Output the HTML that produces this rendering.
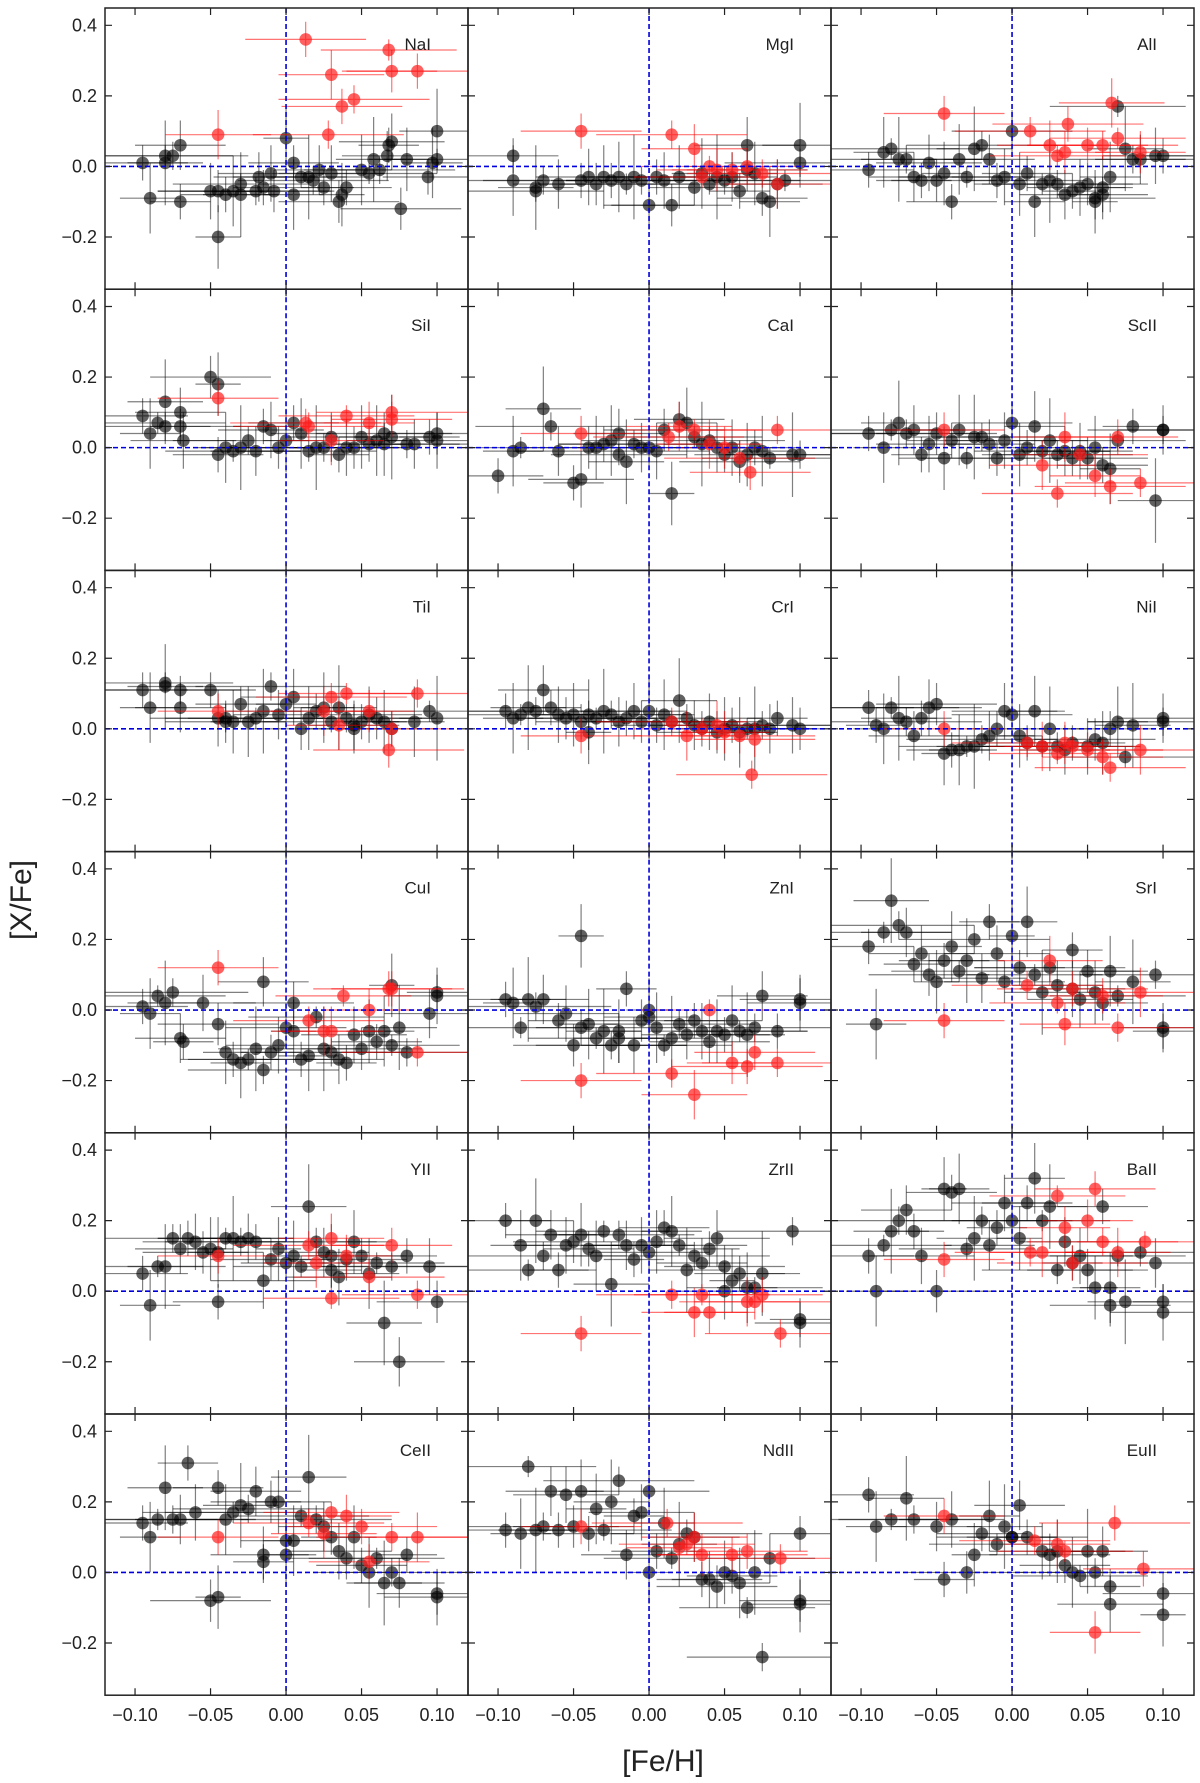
<!DOCTYPE html>
<html><head><meta charset="utf-8">
<style>
html,body{margin:0;padding:0;background:#fff;}
svg{display:block;font-family:"Liberation Sans",sans-serif;}
</style></head>
<body>
<svg id="chart" width="1200" height="1783" viewBox="0 0 1200 1783" xmlns="http://www.w3.org/2000/svg">
<text x="663" y="1771" font-size="30" text-anchor="middle" fill="#222">[Fe/H]</text>
<text x="0" y="0" font-size="30" text-anchor="middle" fill="#222" transform="translate(31,900) rotate(-90)">[X/Fe]</text>
</svg>
<script>
const elements = ["NaI","MgI","AlI","SiI","CaI","ScII","TiI","CrI","NiI","CuI","ZnI","SrI","YII","ZrII","BaII","CeII","NdII","EuII"];
const xTicks = [-0.1,-0.05,0,0.05,0.1];
const xTickLabels = ["−0.10","−0.05","0.00","0.05","0.10"];
const yTicks = [0.4,0.2,0,-0.2];
const yTickLabels = ["0.4","0.2","0.0","−0.2"];
const xErrs = [0.03,0.02,0.045,0.025,0.05,0.03,0.02,0.035,0.04,0.015];
const yErrs = [0.05,0.08,0.04,0.1,0.06,0.07,0.03,0.09,0.05,0.12];
const redXErrs = [0.04,0.05,0.035,0.045,0.03,0.05];
const redYErrs = [0.05,0.04,0.07,0.03,0.06,0.05];

const blackX = [
[-0.095,-0.09,-0.08,-0.08,-0.075,-0.07,-0.07,-0.05,-0.045,-0.045,-0.04,-0.035,-0.03,-0.03,-0.02,-0.018,-0.015,-0.01,-0.008,0.0,0.005,0.005,0.01,0.015,0.018,0.022,0.025,0.03,0.035,0.037,0.04,0.05,0.055,0.058,0.062,0.067,0.068,0.07,0.076,0.08,0.094,0.097,0.1,0.1],
[-0.09,-0.09,-0.075,-0.075,-0.07,-0.06,-0.045,-0.04,-0.035,-0.03,-0.025,-0.02,-0.015,-0.01,-0.005,0.0,0.005,0.01,0.015,0.02,0.03,0.035,0.04,0.045,0.05,0.055,0.06,0.065,0.065,0.07,0.075,0.08,0.09,0.1,0.1,0.085],
[-0.095,-0.085,-0.08,-0.075,-0.07,-0.065,-0.06,-0.055,-0.05,-0.045,-0.04,-0.035,-0.03,-0.025,-0.02,-0.015,-0.01,-0.005,0.0,0.005,0.01,0.015,0.02,0.025,0.03,0.035,0.04,0.045,0.05,0.055,0.06,0.065,0.07,0.075,0.08,0.085,0.1,0.095,0.055,0.06],
[-0.095,-0.09,-0.085,-0.08,-0.08,-0.07,-0.07,-0.068,-0.05,-0.045,-0.045,-0.04,-0.035,-0.03,-0.025,-0.02,-0.015,-0.01,-0.005,0.0,0.005,0.01,0.015,0.02,0.025,0.03,0.035,0.04,0.045,0.05,0.055,0.06,0.065,0.07,0.08,0.085,0.095,0.1,0.1,0.065],
[-0.1,-0.09,-0.085,-0.07,-0.065,-0.06,-0.05,-0.045,-0.04,-0.035,-0.03,-0.025,-0.02,-0.015,-0.01,-0.005,0.0,0.005,0.01,0.015,0.02,0.025,0.03,0.035,0.04,0.045,0.05,0.055,0.06,0.065,0.07,0.075,0.08,0.095,0.1,-0.02],
[-0.095,-0.085,-0.08,-0.075,-0.07,-0.065,-0.06,-0.055,-0.05,-0.045,-0.04,-0.035,-0.03,-0.025,-0.02,-0.015,-0.01,-0.005,0.0,0.005,0.01,0.015,0.02,0.025,0.03,0.035,0.04,0.045,0.05,0.055,0.06,0.065,0.07,0.095,0.1,0.1,0.08],
[-0.095,-0.09,-0.08,-0.08,-0.07,-0.07,-0.05,-0.045,-0.04,-0.035,-0.03,-0.025,-0.02,-0.015,-0.01,-0.005,0.0,0.005,0.01,0.015,0.02,0.025,0.03,0.035,0.04,0.045,0.05,0.055,0.06,0.065,0.07,0.085,0.095,0.1,-0.04,0.045],
[-0.095,-0.09,-0.085,-0.08,-0.075,-0.07,-0.065,-0.06,-0.055,-0.05,-0.045,-0.04,-0.035,-0.03,-0.025,-0.02,-0.015,-0.01,-0.005,0.0,0.005,0.01,0.015,0.02,0.025,0.03,0.035,0.04,0.045,0.05,0.055,0.06,0.065,0.07,0.075,0.08,0.085,0.095,0.1,-0.04],
[-0.095,-0.085,-0.08,-0.075,-0.07,-0.065,-0.06,-0.055,-0.05,-0.045,-0.04,-0.035,-0.03,-0.025,-0.02,-0.015,-0.01,-0.005,0.0,0.005,0.01,0.015,0.02,0.025,0.03,0.035,0.04,0.05,0.055,0.06,0.065,0.07,0.075,0.08,0.1,0.1,-0.09],
[-0.095,-0.09,-0.085,-0.08,-0.075,-0.07,-0.068,-0.055,-0.045,-0.04,-0.035,-0.03,-0.025,-0.02,-0.015,-0.015,-0.01,-0.005,0.0,0.005,0.01,0.015,0.02,0.025,0.03,0.035,0.04,0.045,0.05,0.055,0.06,0.065,0.07,0.075,0.08,0.095,0.1,0.1,0.005,0.07],
[-0.095,-0.09,-0.085,-0.08,-0.075,-0.07,-0.06,-0.055,-0.05,-0.045,-0.045,-0.04,-0.035,-0.03,-0.025,-0.02,-0.015,-0.01,-0.005,0.0,0.0,0.005,0.01,0.015,0.02,0.025,0.03,0.035,0.04,0.045,0.05,0.055,0.06,0.065,0.07,0.075,0.085,0.1,0.1,-0.02],
[-0.095,-0.09,-0.085,-0.08,-0.075,-0.07,-0.065,-0.06,-0.055,-0.05,-0.045,-0.04,-0.035,-0.03,-0.025,-0.02,-0.015,-0.01,-0.005,0.0,0.005,0.01,0.015,0.02,0.025,0.03,0.04,0.045,0.05,0.055,0.06,0.065,0.07,0.08,0.095,0.1,0.1,0.04],
[-0.095,-0.09,-0.085,-0.08,-0.075,-0.07,-0.065,-0.06,-0.055,-0.05,-0.045,-0.045,-0.04,-0.035,-0.03,-0.025,-0.02,-0.015,-0.01,-0.005,0.0,0.005,0.01,0.015,0.02,0.025,0.03,0.035,0.04,0.045,0.05,0.055,0.06,0.065,0.07,0.075,0.08,0.095,0.1,0.03],
[-0.095,-0.085,-0.08,-0.075,-0.07,-0.065,-0.06,-0.055,-0.05,-0.045,-0.04,-0.035,-0.03,-0.025,-0.02,-0.015,-0.01,-0.005,0.0,0.005,0.01,0.015,0.02,0.025,0.03,0.035,0.04,0.045,0.05,0.055,0.06,0.065,0.07,0.075,0.095,0.1,0.1,0.05],
[-0.095,-0.09,-0.085,-0.08,-0.075,-0.07,-0.065,-0.06,-0.05,-0.045,-0.04,-0.035,-0.03,-0.025,-0.02,-0.015,-0.01,-0.005,0.0,0.005,0.01,0.015,0.02,0.025,0.03,0.035,0.04,0.045,0.05,0.055,0.06,0.065,0.07,0.075,0.085,0.095,0.1,0.1,0.065],
[-0.095,-0.09,-0.085,-0.08,-0.075,-0.07,-0.065,-0.06,-0.05,-0.045,-0.045,-0.04,-0.035,-0.03,-0.025,-0.02,-0.015,-0.015,-0.01,-0.005,0.0,0.005,0.01,0.015,0.02,0.025,0.03,0.035,0.04,0.045,0.05,0.055,0.06,0.065,0.07,0.075,0.08,0.1,0.1,0.0],
[-0.095,-0.085,-0.08,-0.075,-0.07,-0.065,-0.06,-0.055,-0.05,-0.045,-0.04,-0.035,-0.03,-0.025,-0.02,-0.015,-0.01,-0.005,0.0,0.0,0.005,0.01,0.015,0.02,0.025,0.03,0.035,0.04,0.045,0.05,0.055,0.06,0.065,0.07,0.075,0.08,0.1,0.1,0.1],
[-0.095,-0.09,-0.08,-0.07,-0.065,-0.05,-0.045,-0.04,-0.03,-0.025,-0.02,-0.015,-0.01,-0.005,0.0,0.005,0.01,0.02,0.025,0.03,0.035,0.04,0.045,0.05,0.055,0.06,0.065,0.065,0.1,0.1,0.0]
];
const blackY = [
[0.01,-0.09,0.03,0.01,0.03,0.06,-0.1,-0.07,-0.07,-0.2,-0.08,-0.07,-0.05,-0.08,-0.07,-0.03,-0.06,-0.02,-0.07,0.08,0.01,-0.08,-0.03,-0.03,-0.04,-0.01,-0.06,-0.02,-0.1,-0.08,-0.06,-0.01,-0.02,0.02,-0.01,0.03,0.06,0.07,-0.12,0.02,-0.03,0.01,0.02,0.1],
[0.03,-0.04,-0.07,-0.06,-0.04,-0.05,-0.04,-0.03,-0.05,-0.03,-0.04,-0.03,-0.05,-0.03,-0.04,-0.11,-0.03,-0.04,-0.11,-0.03,-0.06,-0.02,-0.05,-0.03,-0.04,-0.03,-0.07,0.06,-0.01,-0.02,-0.09,-0.1,-0.04,0.06,0.01,-0.05],
[-0.01,0.04,0.05,0.02,0.02,-0.03,-0.04,0.01,-0.04,-0.02,-0.1,0.02,-0.03,0.05,0.06,0.02,-0.04,-0.03,0.1,-0.05,-0.02,-0.1,-0.05,-0.04,-0.05,-0.08,-0.07,-0.06,-0.05,-0.1,-0.08,-0.03,0.17,0.05,0.02,0.02,0.03,0.03,-0.09,-0.06],
[0.09,0.04,0.07,0.13,0.06,0.1,0.06,0.02,0.2,0.18,-0.02,0.0,-0.01,0.0,0.02,-0.01,0.06,0.05,0.0,0.02,0.07,0.04,-0.01,0.0,0.0,0.03,-0.02,0.0,0.0,0.03,0.01,0.02,0.04,0.03,0.01,0.01,0.03,0.02,0.04,0.01],
[-0.08,-0.01,0.0,0.11,0.06,-0.01,-0.1,-0.09,0.0,0.0,0.01,0.02,-0.02,-0.04,0.01,0.0,0.0,-0.01,0.05,-0.13,0.08,0.07,0.03,0.01,0.02,0.0,-0.02,0.0,-0.04,-0.02,0.0,-0.01,-0.03,-0.02,-0.02,0.04],
[0.04,0.0,0.05,0.07,0.04,0.05,-0.02,0.01,0.04,-0.03,0.02,0.05,-0.03,0.03,0.03,0.01,-0.03,0.02,0.07,-0.02,0.0,0.06,-0.01,0.02,-0.02,-0.01,-0.03,-0.01,-0.03,0.0,-0.05,-0.06,0.02,-0.15,0.05,0.05,0.06],
[0.11,0.06,0.13,0.12,0.11,0.06,0.11,0.03,0.02,0.02,0.07,0.02,0.03,0.05,0.12,0.04,0.07,0.09,0.0,0.03,0.05,0.06,0.02,0.06,0.03,0.0,0.02,0.04,0.03,0.02,0.0,0.02,0.05,0.03,0.03,0.01],
[0.05,0.03,0.04,0.06,0.05,0.11,0.06,0.04,0.03,0.04,0.02,0.04,0.03,0.05,0.04,0.02,0.03,0.05,0.02,0.05,0.01,0.04,0.02,0.08,0.03,0.01,0.0,0.02,-0.01,0.0,0.01,-0.01,0.0,0.0,0.01,0.0,0.03,0.01,0.0,-0.01],
[0.06,0.0,0.06,0.03,0.02,-0.02,0.03,0.06,0.07,-0.07,-0.06,-0.06,-0.05,-0.05,-0.03,-0.02,0.0,0.05,0.04,-0.02,-0.04,0.05,-0.05,0.0,-0.05,-0.06,-0.04,-0.05,-0.03,-0.04,0.0,0.02,-0.08,0.01,0.02,0.03,0.01],
[0.01,-0.01,0.04,0.02,0.05,-0.08,-0.09,0.02,-0.04,-0.12,-0.14,-0.15,-0.14,-0.11,-0.17,0.08,-0.12,-0.1,-0.05,-0.06,-0.14,-0.13,-0.02,-0.11,-0.12,-0.14,-0.15,-0.07,-0.11,-0.06,-0.09,-0.06,-0.1,-0.05,-0.12,-0.01,0.05,0.04,0.02,0.07],
[0.03,0.02,-0.05,0.03,0.01,0.03,-0.03,-0.01,-0.1,0.21,-0.05,-0.04,-0.08,-0.06,-0.1,-0.08,0.06,-0.1,-0.03,0.0,-0.02,-0.05,-0.1,-0.08,-0.04,-0.07,-0.03,-0.06,-0.09,-0.06,-0.07,-0.03,-0.06,-0.07,-0.05,0.04,-0.06,0.02,0.03,-0.06],
[0.18,-0.04,0.22,0.31,0.24,0.22,0.13,0.16,0.1,0.08,0.14,0.18,0.11,0.14,0.2,0.09,0.25,0.16,0.08,0.21,0.12,0.25,0.1,0.05,0.12,0.07,0.17,0.03,0.11,0.05,0.02,0.11,0.04,0.08,0.1,-0.05,-0.06,0.06],
[0.05,-0.04,0.07,0.07,0.15,0.12,0.15,0.14,0.11,0.12,-0.03,0.11,0.15,0.15,0.14,0.15,0.14,0.03,0.09,0.12,0.08,0.1,0.07,0.24,0.14,0.11,0.06,0.04,0.09,0.14,0.1,0.05,0.08,-0.09,0.07,-0.2,0.1,0.07,-0.03,0.1],
[0.2,0.13,0.06,0.2,0.1,0.16,0.06,0.13,0.14,0.16,0.12,0.1,0.17,0.02,0.16,0.13,0.09,0.13,0.11,0.14,0.18,0.17,0.13,0.06,0.1,0.08,0.12,0.15,0.07,0.03,0.05,0.01,0.01,0.05,0.17,-0.09,-0.08,0.0],
[0.1,0.0,0.13,0.17,0.2,0.23,0.17,0.1,0.0,0.29,0.28,0.29,0.12,0.15,0.2,0.13,0.18,0.25,0.2,0.15,0.25,0.32,0.2,0.24,0.06,0.14,0.08,0.1,0.06,0.01,0.24,0.01,0.1,-0.03,0.11,0.08,-0.03,-0.06,-0.04],
[0.14,0.1,0.15,0.24,0.15,0.15,0.31,0.17,-0.08,-0.07,0.24,0.15,0.17,0.19,0.18,0.23,0.03,0.05,0.2,0.2,0.09,0.09,0.16,0.27,0.15,0.13,0.1,0.06,0.04,0.1,0.02,0.0,0.04,-0.03,0.0,-0.03,0.05,-0.07,-0.06,0.05],
[0.12,0.11,0.3,0.12,0.13,0.23,0.12,0.22,0.13,0.23,0.11,0.18,0.12,0.2,0.26,0.05,0.16,0.17,0.23,0.0,0.06,0.14,0.04,0.08,0.11,0.1,-0.02,-0.02,-0.04,0.0,-0.01,-0.03,-0.1,0.0,-0.24,0.04,0.11,-0.09,-0.08],
[0.22,0.13,0.15,0.21,0.15,0.13,-0.02,0.15,0.0,0.05,0.11,0.16,0.08,0.13,0.1,0.19,0.1,0.06,0.05,0.06,0.02,0.0,-0.01,0.06,0.0,0.06,-0.04,-0.09,-0.06,-0.12,0.1]
];
const redX = [
[0.013,0.045,0.03,0.068,0.07,0.087,0.037,0.028,-0.045],
[-0.045,0.015,0.03,0.035,0.045,0.055,0.065,0.075,0.085,0.04],
[-0.045,0.012,0.025,0.03,0.035,0.037,0.05,0.06,0.066,0.07,0.085],
[-0.045,0.013,0.03,0.04,0.055,0.07,0.07,0.015],
[-0.045,0.013,0.02,0.03,0.05,0.06,0.067,0.085,0.04],
[-0.045,0.03,0.035,0.045,0.055,0.065,0.07,0.085,0.02],
[-0.045,0.03,0.035,0.04,0.055,0.068,0.07,0.087,0.025],
[-0.045,0.015,0.025,0.035,0.05,0.06,0.07,0.068,0.045],
[-0.045,0.01,0.02,0.03,0.035,0.05,0.06,0.065,0.085,0.04],
[-0.045,0.015,0.03,0.038,0.055,0.068,0.07,0.087,0.025],
[-0.045,0.015,0.03,0.04,0.055,0.065,0.07,0.085],
[-0.045,0.01,0.025,0.03,0.035,0.04,0.06,0.07,0.085],
[-0.045,0.015,0.03,0.03,0.04,0.055,0.07,0.087,0.02],
[-0.045,0.015,0.03,0.035,0.04,0.07,0.075,0.087,0.065],
[-0.045,0.012,0.02,0.03,0.035,0.04,0.055,0.06,0.07,0.088,0.05],
[-0.045,0.015,0.025,0.03,0.04,0.05,0.055,0.07,0.087],
[-0.045,0.012,0.02,0.025,0.035,0.055,0.065,0.087,0.03],
[-0.045,0.015,0.03,0.035,0.055,0.068,0.087]
];
const redY = [
[0.36,0.19,0.26,0.33,0.27,0.27,0.17,0.09,0.09],
[0.1,0.09,0.05,-0.03,-0.01,-0.01,0.0,-0.02,-0.05,0.0],
[0.15,0.1,0.06,0.03,0.04,0.12,0.06,0.06,0.18,0.08,0.04],
[0.14,0.07,0.02,0.09,0.07,0.1,0.08,0.06],
[0.04,0.03,0.06,0.05,0.0,-0.03,-0.07,0.05,0.01],
[0.05,-0.13,0.03,-0.02,-0.08,-0.11,0.03,-0.1,-0.05],
[0.05,0.09,0.01,0.1,0.05,-0.06,0.0,0.1,0.05],
[-0.02,0.02,-0.02,0.0,-0.01,-0.02,-0.03,-0.13,0.01],
[0.0,-0.04,-0.05,-0.07,-0.04,-0.06,-0.08,-0.11,-0.06,-0.05],
[0.12,-0.03,-0.06,0.04,0.0,0.06,0.06,-0.12,-0.06],
[-0.2,-0.18,-0.24,0.0,-0.15,-0.16,-0.12,-0.15],
[-0.03,0.07,0.14,0.02,-0.04,0.06,0.04,-0.05,0.05],
[0.1,0.13,0.15,-0.02,0.1,0.04,0.13,-0.01,0.08],
[-0.12,-0.01,-0.06,-0.01,-0.06,-0.03,-0.01,-0.12,-0.03],
[0.09,0.11,0.11,0.27,0.18,0.08,0.29,0.14,0.11,0.14,0.2],
[0.1,0.14,0.11,0.17,0.16,0.13,0.03,0.1,0.1],
[0.13,0.14,0.07,0.08,0.05,0.05,0.06,0.04,0.1],
[0.16,0.09,0.08,0.06,-0.17,0.14,0.01]
];

const NS = "http://www.w3.org/2000/svg";
const svg = document.getElementById("chart");
const colLeft = [105, 468, 831];
const panelW = 363;
const rowTop = [8, 289.2, 570.4, 851.6, 1132.8, 1414];
const panelH = 281.2;
const xMin = -0.1199, xMax = 0.1205, yMin = -0.348, yMax = 0.449;

function mk(tag, attrs, parent) {
  const e = document.createElementNS(NS, tag);
  for (const k in attrs) e.setAttribute(k, attrs[k]);
  (parent || svg).appendChild(e);
  return e;
}

elements.forEach((name, i) => {
  const col = i % 3, row = Math.floor(i / 3);
  const L = colLeft[col], T = rowTop[row];
  const sx = v => L + (v - xMin) / (xMax - xMin) * panelW;
  const sy = v => T + (yMax - v) / (yMax - yMin) * panelH;
  const g = mk("g", {});
  
  
  const clipId = "clip" + i;
  const cp = mk("clipPath", {id: clipId}, g);
  mk("rect", {x: L, y: T, width: panelW, height: panelH}, cp);
  const inner = mk("g", {"clip-path": "url(#" + clipId + ")"}, g);
  
  

  const bx = blackX[i], by = blackY[i];
  bx.forEach((xv, j) => {
    const yv = by[j];
    const xe = xErrs[j % xErrs.length], ye = yErrs[(j * 3) % yErrs.length];
    const eb = mk("path", {d: `M${sx(xv - xe)},${sy(yv)}H${sx(xv + xe)}M${sx(xv)},${sy(yv - ye)}V${sy(yv + ye)}`, stroke: "rgba(0,0,0,0.5)", "stroke-width": 1.2, fill: "none"}, inner);
    
    
    const c = mk("circle", {cx: sx(xv), cy: sy(yv), r: 6.3, fill: "rgba(0,0,0,0.62)"}, inner);
    
    
  });
  const rx = redX[i], ry = redY[i];
  rx.forEach((xv, j) => {
    const yv = ry[j];
    const xe = redXErrs[j % redXErrs.length], ye = redYErrs[j % redYErrs.length];
    const eb = mk("path", {d: `M${sx(xv - xe)},${sy(yv)}H${sx(xv + xe)}M${sx(xv)},${sy(yv - ye)}V${sy(yv + ye)}`, stroke: "rgba(255,0,0,0.55)", "stroke-width": 1.2, fill: "none"}, inner);
    
    
    const c = mk("circle", {cx: sx(xv), cy: sy(yv), r: 6.3, fill: "rgba(255,30,30,0.7)"}, inner);
    
    
  });
  const vl = mk("line", {x1: sx(0), x2: sx(0), y1: T, y2: T + panelH, stroke: "#0000dd", "stroke-width": 1.6, "stroke-dasharray": "5,3"}, g);
  
  
  const hl = mk("line", {x1: L, x2: L + panelW, y1: sy(0), y2: sy(0), stroke: "#0000dd", "stroke-width": 1.6, "stroke-dasharray": "5,3"}, g);
  
  
  const fr = mk("rect", {x: L, y: T, width: panelW, height: panelH, fill: "none", stroke: "#222", "stroke-width": 1.5}, g);
  
  
  xTicks.forEach((t, k) => {
    const x = sx(t);
    mk("path", {d: `M${x},${T}v7M${x},${T + panelH}v-7`, stroke: "#222", "stroke-width": 1.2}, g);
    if (row === 5) {
      const tl = mk("text", {x: x, y: 1721, "font-size": 18, "text-anchor": "middle", fill: "#222"}, g);
      tl.textContent = xTickLabels[k];
      
      
    }
  });
  yTicks.forEach((t, k) => {
    const y = sy(t);
    mk("path", {d: `M${L},${y}h7M${L + panelW},${y}h-7`, stroke: "#222", "stroke-width": 1.2}, g);
    if (col === 0) {
      const tl = mk("text", {x: 97, y: y + 6, "font-size": 18, "text-anchor": "end", fill: "#222"}, g);
      tl.textContent = yTickLabels[k];
      
      
    }
  });
  const lab = mk("text", {x: L + panelW - 37, y: T + 42, "font-size": 17, "text-anchor": "end", fill: "#222"}, g);
  lab.textContent = name;
  
  
});
</script>
</body></html>
